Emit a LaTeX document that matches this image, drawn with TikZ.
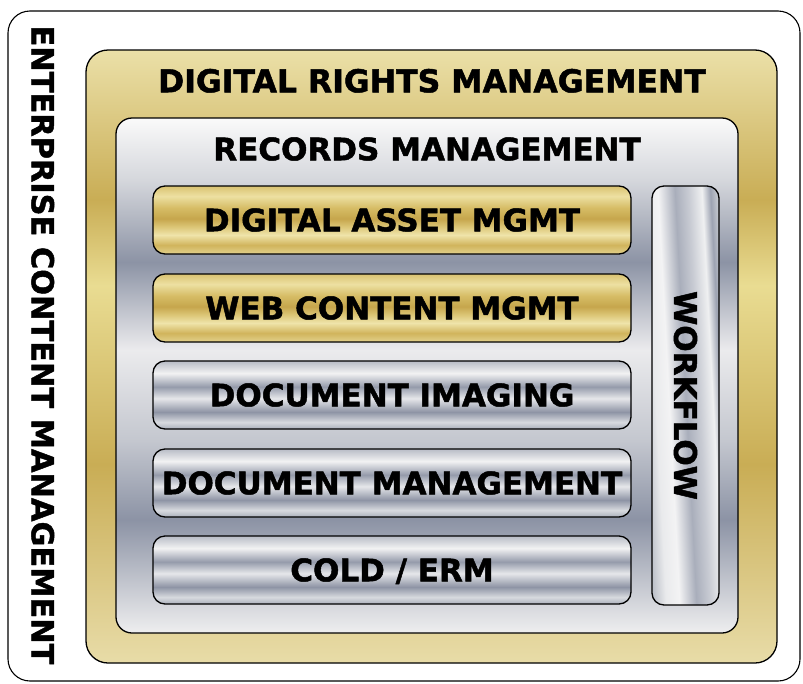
\documentclass[tikz,border=0pt]{standalone}
\usepackage{fontspec}
\setmainfont{DejaVu Sans}[BoldFeatures={FakeBold=1.5}]
\definecolor{gbT}{HTML}{EBE0A8}\definecolor{gbD}{HTML}{C9AD55}\definecolor{gbL}{HTML}{E9DC92}
\definecolor{gbA}{HTML}{E8DCA8}
\definecolor{sbT}{HTML}{FAFAFA}\definecolor{sbM2}{HTML}{D5D7DC}\definecolor{sbD}{HTML}{8C93A5}
\definecolor{sbL}{HTML}{EBEBED}\definecolor{sbM}{HTML}{C4C7CF}\definecolor{sbB}{HTML}{EEEEEF}
\definecolor{g8}{HTML}{D9C271}\definecolor{g7}{HTML}{EDE0A2}\definecolor{g6}{HTML}{D6BD66}
\definecolor{g5}{HTML}{C6A64C}\definecolor{g4}{HTML}{DCC677}\definecolor{g3}{HTML}{EFE4AA}
\definecolor{g2}{HTML}{D0B45C}\definecolor{g1}{HTML}{E2D18C}
\definecolor{s7}{HTML}{B8BCC6}\definecolor{s6}{HTML}{F2F2F3}\definecolor{s5}{HTML}{959BAB}
\definecolor{s4}{HTML}{E6E7EA}\definecolor{s3}{HTML}{8E94A5}\definecolor{s2}{HTML}{D8DADF}
\definecolor{s1}{HTML}{AAB0BB}
\definecolor{w1}{HTML}{BFC3CB}\definecolor{w2}{HTML}{E9EAEC}\definecolor{w3}{HTML}{F3F3F4}
\definecolor{w4}{HTML}{A9AEBB}\definecolor{w5}{HTML}{C8CBD3}\definecolor{w6}{HTML}{EFF0F1}
\definecolor{w7}{HTML}{9DA3B2}\definecolor{w8}{HTML}{C4C8CF}
\pgfdeclareverticalshading{goldbox}{100bp}{%
 color(0bp)=(gbA); color(25bp)=(gbA); color(41.2bp)=(gbD); color(55.8bp)=(gbL);
 color(62.8bp)=(gbD); color(75bp)=(gbT); color(100bp)=(gbT)}
\pgfdeclareverticalshading{silverbox}{100bp}{%
 color(0bp)=(sbB); color(25bp)=(sbB); color(36bp)=(sbD); color(43.7bp)=(sbM);
 color(52.5bp)=(sbL); color(61bp)=(sbD); color(69bp)=(sbM2); color(75bp)=(sbT); color(100bp)=(sbT)}
\pgfdeclareverticalshading{goldbar}{100bp}{%
 color(0bp)=(g1); color(25bp)=(g1); color(31.5bp)=(g2); color(39bp)=(g3);
 color(45bp)=(g4); color(51bp)=(g5); color(59bp)=(g6); color(67.5bp)=(g7); color(75bp)=(g8); color(100bp)=(g8)}
\pgfdeclareverticalshading{silverbar}{100bp}{%
 color(0bp)=(s1); color(25bp)=(s1); color(30bp)=(s2); color(37.5bp)=(s3);
 color(47.5bp)=(s4); color(56bp)=(s5); color(66bp)=(s6); color(75bp)=(s7); color(100bp)=(s7)}
\pgfdeclarehorizontalshading{wflow}{100bp}{%
 color(0bp)=(w1); color(25bp)=(w1); color(32bp)=(w2); color(40bp)=(w3);
 color(50bp)=(w4); color(58bp)=(w5); color(66bp)=(w6); color(71bp)=(w7); color(75bp)=(w8); color(100bp)=(w8)}
\tikzset{
 frame/.style={draw=black, line width=1.3pt, rectangle, inner sep=0pt},
 lbl/.style={font=\bfseries\fontsize{31}{37}\selectfont, inner sep=0pt, text height=22.6pt, text depth=0pt},
 goldbarbox/.style={frame, rounded corners=12pt, minimum width=478pt, minimum height=68pt, shading=goldbar, lbl},
 silverbarbox/.style={frame, rounded corners=12pt, minimum width=478pt, minimum height=68pt, shading=silverbar, lbl},
}
\begin{document}
\begin{tikzpicture}[x=1pt,y=-1pt]
\useasboundingbox (0,0) rectangle (803,683);
\node[frame, fill=white, rounded corners=22pt, line width=1.1pt, minimum width=792pt, minimum height=670pt] (ecm) at (404,346) {};
\node[frame, rounded corners=22pt, minimum width=691pt, minimum height=613pt, shading=goldbox] (drm) at (431.5,356.5) {};
\node[frame, rounded corners=16pt, minimum width=622pt, minimum height=515pt, shading=silverbox] (rm) at (427,375.5) {};
\node[goldbarbox] (dam) at (392,220) {DIGITAL ASSET MGMT};
\node[goldbarbox] (wcm) at (392,308) {WEB CONTENT MGMT};
\node[silverbarbox] (di) at (392,395) {DOCUMENT IMAGING};
\node[silverbarbox] (dm) at (392,483) {DOCUMENT MANAGEMENT};
\node[silverbarbox] (cold) at (392,570) {COLD / ERM};
\node[frame, rounded corners=12pt, minimum width=67pt, minimum height=419pt, shading=wflow, shading angle=3] (wf) at (685.5,395.5) {};
\node[lbl, rotate=-90] (wft) at (wf.center) {WORKFLOW};
\node[lbl, font=\bfseries\fontsize{31.5}{37}\selectfont] (drmt) at (432,81) {DIGITAL RIGHTS MANAGEMENT};
\node[lbl] (rmt) at (427,149) {RECORDS MANAGEMENT};
\node[lbl, rotate=-90, font=\bfseries\fontsize{30.4}{37}\selectfont] (ecmt) at (43,345) {ENTERPRISE CONTENT MANAGEMENT};
\end{tikzpicture}
\end{document}
